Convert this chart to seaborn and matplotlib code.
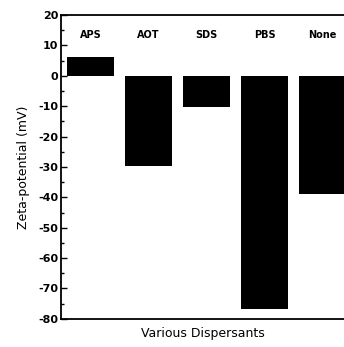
import matplotlib
matplotlib.use("Agg")
import matplotlib.pyplot as plt
import seaborn as sns
from matplotlib.ticker import MultipleLocator

dispersants = ["APS", "AOT", "SDS", "PBS", "None"]
zeta_mv = [6.0, -29.7, -10.3, -76.7, -38.8]

sns.set_style("ticks")
plt.rcParams["font.family"] = ["DejaVu Sans"]
plt.rcParams["axes.unicode_minus"] = False
plt.rcParams["text.color"] = "black"
plt.rcParams["axes.labelcolor"] = "black"
plt.rcParams["axes.edgecolor"] = "black"
plt.rcParams["ytick.color"] = "black"

fig = plt.figure(figsize=(3.44, 3.47), dpi=100)
ax = fig.add_axes([0.177, 0.081, 0.823, 0.876])

sns.barplot(x=dispersants, y=zeta_mv, color="black", saturation=1,
            width=0.81, linewidth=0, ax=ax)

# category names across the top of the plot
for i, name in enumerate(dispersants):
    ax.text(i, 13.5, name, ha="center", va="center", fontsize=7,
            fontweight="bold")

ax.set_ylim(-80, 20)
ax.set_xlim(-0.51, 4.37)
ax.yaxis.set_major_locator(MultipleLocator(10))
ax.yaxis.set_minor_locator(MultipleLocator(5))
ax.tick_params(axis="y", which="major", direction="in", length=4, width=1,
               labelsize=8, pad=2)
ax.tick_params(axis="y", which="minor", direction="in", length=2, width=1)
ax.tick_params(axis="x", bottom=False, labelbottom=False)
for lbl in ax.get_yticklabels():
    lbl.set_fontweight("bold")

for side in ["left", "top", "bottom"]:
    ax.spines[side].set_visible(True)
    ax.spines[side].set_linewidth(1.3)
ax.spines["right"].set_visible(False)

ax.set_ylabel("Zeta-potential (mV)", fontsize=9, labelpad=6)
ax.set_xlabel("Various Dispersants", fontsize=9, labelpad=6)

fig.savefig("out.png", dpi=100)
